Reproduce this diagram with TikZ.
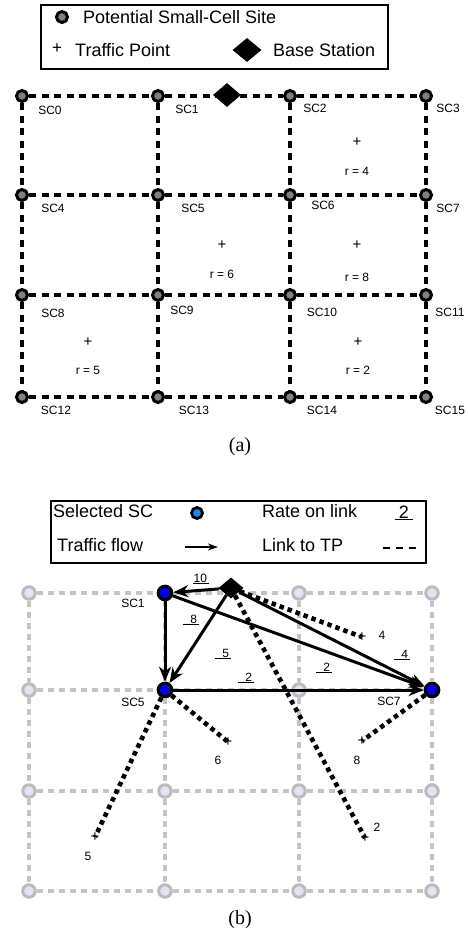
\documentclass[tikz,border=0pt]{standalone}
\usepackage{fontspec}
\setmainfont{Liberation Sans}
\newfontfamily\captionserif{Liberation Serif}
\usepackage{xcolor}
\usepackage{tikz}
\usetikzlibrary{arrows.meta,shapes.geometric}
\definecolor{SiteGray}{HTML}{808080}
\definecolor{GridGray}{HTML}{C4C4C4}
\definecolor{IdleFill}{HTML}{E3E3F4}
\definecolor{IdleRing}{HTML}{BBBBBB}
\definecolor{PickBlue}{HTML}{0000F0}
\definecolor{KeyBlue}{HTML}{1E88F0}
\newcommand{\ratemark}[1]{\underline{\makebox[16pt][r]{#1\hspace{2pt}}}}

\begin{document}
\begin{tikzpicture}[
  x=1pt,
  y=-1pt,
  font=\fontsize{12}{14}\selectfont,
  keybox/.style={draw, line width=1.4pt, inner sep=0pt},
  keytext/.style={font=\fontsize{18}{21}\selectfont, anchor=west, inner sep=0pt},
  site/.style={circle, draw=black, fill=SiteGray, line width=3pt, minimum size=11pt, inner sep=0pt},
  idle/.style={circle, draw=IdleRing, fill=IdleFill, line width=3pt, minimum size=12.5pt, inner sep=0pt},
  pick/.style={circle, draw=black, fill=PickBlue, line width=3.2pt, minimum size=13.5pt, inner sep=0pt},
  bs/.style={diamond, fill=black, inner sep=0pt},
  sclabel/.style={font=\fontsize{12}{14}\selectfont, inner sep=0pt},
  tp/.style={font=\fontsize{15}{15}\selectfont, inner sep=0pt},
  gridline/.style={line width=3.6pt, dash pattern=on 7pt off 5.5pt},
  faintline/.style={line width=3.2pt, draw=GridGray, dash pattern=on 6pt off 5pt},
  flow/.style={-{Stealth[length=15pt,width=12pt]}, line width=3pt},
  tplink/.style={line width=4.6pt, dash pattern=on 4.5pt off 4pt},
  caption/.style={font=\captionserif\fontsize{20}{22}\selectfont}
]
\useasboundingbox (0,0) rectangle (468,935);

\node[keybox, minimum width=347pt, minimum height=64pt] (keya) at (214.5,37) {};
\node[site] (keysite) at (62,17) {};
\node[keytext] (keysitetxt) at (83,17) {Potential Small-Cell Site};
\node[tp, font=\fontsize{17}{17}\selectfont] (keytp) at (57,49) {+};
\node[keytext] (keytptxt) at (75,50) {Traffic Point};
\node[bs, minimum width=29pt, minimum height=24pt] (keybs) at (247,50) {};
\node[keytext] (keybstxt) at (273,50) {Base Station};

\node[site] (a0) at (22,96) {};
\node[site] (a1) at (158,96) {};
\node[site] (a2) at (290,96) {};
\node[site] (a3) at (426,96) {};
\node[site] (a4) at (22,195) {};
\node[site] (a5) at (158,195) {};
\node[site] (a6) at (290,195) {};
\node[site] (a7) at (426,195) {};
\node[site] (a8) at (22,295) {};
\node[site] (a9) at (158,295) {};
\node[site] (a10) at (290,295) {};
\node[site] (a11) at (426,295) {};
\node[site] (a12) at (22,397) {};
\node[site] (a13) at (158,397) {};
\node[site] (a14) at (290,397) {};
\node[site] (a15) at (426,397) {};

\node[sclabel] (la0) at (50,110) {SC0};
\node[sclabel] (la1) at (187,109) {SC1};
\node[sclabel] (la2) at (315,108) {SC2};
\node[sclabel] (la3) at (448,108) {SC3};
\node[sclabel] (la4) at (53,208) {SC4};
\node[sclabel] (la5) at (193,208) {SC5};
\node[sclabel] (la6) at (323,205) {SC6};
\node[sclabel] (la7) at (448,208) {SC7};
\node[sclabel] (la8) at (53,313) {SC8};
\node[sclabel] (la9) at (182,310) {SC9};
\node[sclabel] (la10) at (322,312) {SC10};
\node[sclabel] (la11) at (450,312) {SC11};
\node[sclabel] (la12) at (56,410) {SC12};
\node[sclabel] (la13) at (194,410) {SC13};
\node[sclabel] (la14) at (322,410) {SC14};
\node[sclabel] (la15) at (450,410) {SC15};

\draw[gridline] (a0) -- (a1) -- (a2) -- (a3);
\draw[gridline] (a4) -- (a5) -- (a6) -- (a7);
\draw[gridline] (a8) -- (a9) -- (a10) -- (a11);
\draw[gridline] (a12) -- (a13) -- (a14) -- (a15);
\draw[gridline] (a0) -- (a4) -- (a8) -- (a12);
\draw[gridline] (a1) -- (a5) -- (a9) -- (a13);
\draw[gridline] (a2) -- (a6) -- (a10) -- (a14);
\draw[gridline] (a3) -- (a7) -- (a11) -- (a15);

\node[bs, minimum width=28pt, minimum height=24pt] (bsa) at (227,95) {};

\node[tp] (ta4) at (357,142) {+};
\node[sclabel] (ra4) at (357,171) {r = 4};
\node[tp] (ta6) at (222,245) {+};
\node[sclabel] (ra6) at (222,274) {r = 6};
\node[tp] (ta8) at (357,245) {+};
\node[sclabel] (ra8) at (357,277) {r = 8};
\node[tp] (ta5) at (88,342) {+};
\node[sclabel] (ra5) at (88,370) {r = 5};
\node[tp] (ta2) at (358,342) {+};
\node[sclabel] (ra2) at (358,370) {r = 2};

\node[caption] (capa) at (240,447) {(a)};

\node[keybox, minimum width=375pt, minimum height=62pt] (keyb) at (238.5,532) {};
\node[keytext] (keysel) at (53,511) {Selected SC};
\node[pick, fill=KeyBlue, minimum size=11pt, line width=2.8pt] (keypick) at (197,513) {};
\node[keytext] (keyrate) at (262,511) {Rate on link};
\node[font=\fontsize{18}{21}\selectfont, inner sep=0pt] (keyrateval) at (404,513) {\underline{\makebox[18pt]{2}}};
\node[keytext] (keyflow) at (57,545) {Traffic flow};
\coordinate (flowa) at (185,547);
\coordinate (flowb) at (218,547);
\draw[-{Stealth[length=10pt,width=7pt]}, line width=1.4pt] (flowa) -- (flowb);
\node[keytext] (keylink) at (262,545) {Link to TP};
\coordinate (linka) at (383,548);
\coordinate (linkb) at (416,548);
\draw[line width=1.5pt, dash pattern=on 7pt off 6pt] (linka) -- (linkb);

\node[idle] (b0) at (29,593) {};
\node[pick] (b1) at (165,593) {};
\node[idle] (b2) at (299,593) {};
\node[idle] (b3) at (432,593) {};
\node[idle] (b4) at (29,690) {};
\node[pick] (b5) at (165,690) {};
\node[idle] (b6) at (299,690) {};
\node[pick] (b7) at (432,690) {};
\node[idle] (b8) at (29,791) {};
\node[idle] (b9) at (165,791) {};
\node[idle] (b10) at (299,791) {};
\node[idle] (b11) at (432,791) {};
\node[idle] (b12) at (29,891) {};
\node[idle] (b13) at (165,891) {};
\node[idle] (b14) at (299,891) {};
\node[idle] (b15) at (432,891) {};

\node[sclabel] (lb1) at (133,603) {SC1};
\node[sclabel] (lb5) at (133,702) {SC5};
\node[sclabel] (lb7) at (389,701) {SC7};

\draw[faintline] (b0) -- (b1) -- (b2) -- (b3);
\draw[faintline] (b4) -- (b5) -- (b6) -- (b7);
\draw[faintline] (b8) -- (b9) -- (b10) -- (b11);
\draw[faintline] (b12) -- (b13) -- (b14) -- (b15);
\draw[faintline] (b0) -- (b4) -- (b8) -- (b12);
\draw[faintline] (b1) -- (b5) -- (b9) -- (b13);
\draw[faintline] (b2) -- (b6) -- (b10) -- (b14);
\draw[faintline] (b3) -- (b7) -- (b11) -- (b15);

\node[bs, minimum width=25pt, minimum height=21pt] (bsb) at (231,588) {};

\node[tp] (tb4) at (362,637) {+};
\node[sclabel] (rb4) at (382,635) {4};
\node[tp] (tb2) at (365,838) {+};
\node[sclabel] (rb2) at (377,827) {2};
\node[tp] (tb6) at (228,742) {+};
\node[sclabel] (rb6) at (218,760) {6};
\node[tp] (tb5) at (95,837) {+};
\node[sclabel] (rb5) at (88,856) {5};
\node[tp] (tb8) at (362,741) {+};
\node[sclabel] (rb8) at (357,760) {8};

\draw[tplink] (bsb) -- (tb4.center);
\draw[tplink] (bsb) -- (tb2.center);
\draw[tplink] (b5) -- (tb6.center);
\draw[tplink] (b5) -- (tb5.center);
\draw[tplink] (b7) -- (tb8.center);

\draw[flow] (bsb) -- (b1);
\draw[flow] (bsb) -- (b5);
\draw[flow] (bsb) -- (b7);
\draw[flow] (b1) -- (b5);
\draw[flow] (b1) -- (b7);
\draw[flow] (b5) -- (b7);

\node[sclabel] (w10) at (201,579) {\ratemark{10}};
\node[sclabel] (w8) at (191,620) {\ratemark{8}};
\node[sclabel] (w5) at (223,654) {\ratemark{5}};
\node[sclabel] (w2a) at (246,678) {\ratemark{2}};
\node[sclabel] (w2b) at (324,668) {\ratemark{2}};
\node[sclabel] (w4) at (402,655) {\ratemark{4}};

\node[caption] (capb) at (240,920) {(b)};
\end{tikzpicture}
\end{document}
